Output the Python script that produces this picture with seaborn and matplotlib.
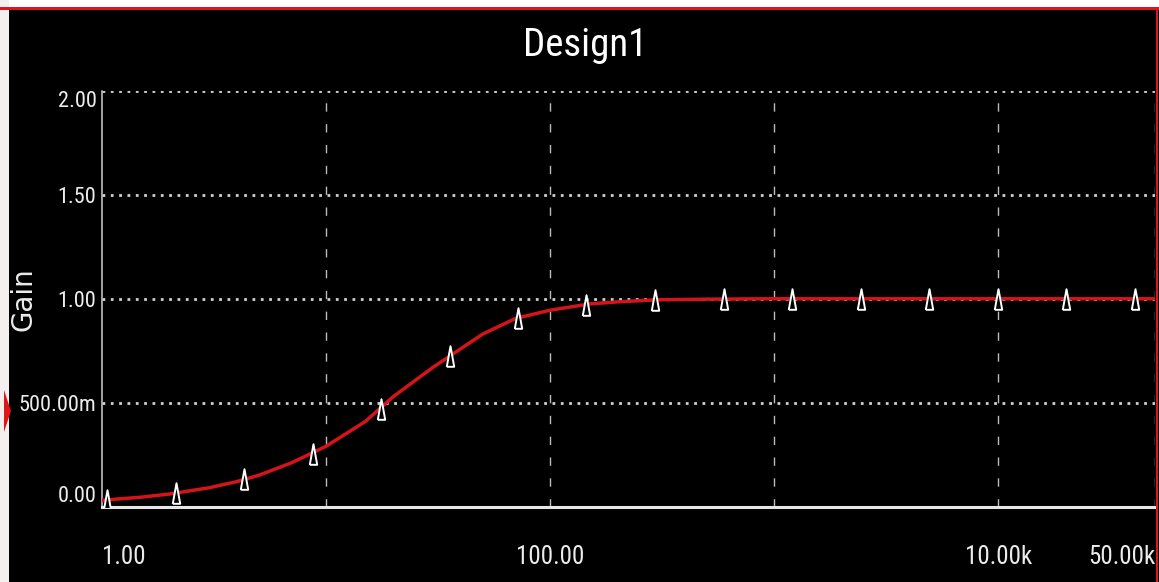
import matplotlib
matplotlib.use("Agg")
import matplotlib.pyplot as plt
import seaborn as sns
import pandas as pd
from matplotlib import font_manager
from matplotlib.patches import Rectangle, Polygon

# Frequency response of the filter (Hz -> gain)
freq = [1, 1.5, 2, 3, 4, 5, 7, 10, 15, 20, 30, 40, 50, 70, 100, 150, 200,
        300, 500, 1000, 10000, 50000]
gain = [0.03, 0.045, 0.06, 0.09, 0.12, 0.15, 0.21, 0.29, 0.41, 0.53, 0.67,
        0.76, 0.83, 0.905, 0.945, 0.975, 0.985, 0.995, 0.998, 1.0, 1.0, 1.0]

# Trace markers
marker_freq = [1.05, 2.13, 4.3, 8.7, 17.6, 35.6, 72, 145, 293, 594, 1200,
               2430, 4920, 9960, 20100, 40800]
marker_gain = [0.032, 0.064, 0.13, 0.255, 0.47, 0.725, 0.907, 0.972, 0.994,
               0.998, 1.0, 1.0, 1.0, 1.0, 1.0, 1.0]

x_ticks = [1, 10, 100, 1000, 10000, 50000]
x_tick_labels = ["1.00", "", "100.00", "", "10.00k", "50.00k"]
y_ticks = [0.0, 0.5, 1.0, 1.5, 2.0]
y_tick_labels = ["0.00", "500.00m", "1.00", "1.50", "2.00"]

title = "Design1"
y_label = "Gain"

sns.set_style("dark", {"axes.facecolor": "black", "figure.facecolor": "black"})
avail = {f.name for f in font_manager.fontManager.ttflist}
narrow = next((n for n in ["Liberation Sans Narrow", "DejaVu Sans Condensed",
                           "Roboto Condensed", "Liberation Sans"] if n in avail),
              "DejaVu Sans")
plt.rcParams["font.family"] = [narrow, "DejaVu Sans"]

W, H = 1159, 582
fig = plt.figure(figsize=(W / 100, H / 100), dpi=100, facecolor="black")
ax = fig.add_axes([102 / W, 1 - 506.5 / H, 1053 / W, 415.5 / H])
ax.set_facecolor("black")

curve = pd.DataFrame({"freq": freq, "gain": gain})
marks = pd.DataFrame({"freq": marker_freq, "gain": marker_gain})

sns.lineplot(data=curve, x="freq", y="gain", ax=ax, color="#d4141a",
             linewidth=2.5, zorder=3)
tri = [(-0.36, -1.0), (0.36, -1.0), (0.0, 1.0), (-0.36, -1.0)]
sns.scatterplot(data=marks, x="freq", y="gain", ax=ax, marker=tri, s=220,
                facecolor="black", edgecolor="white", linewidth=1.4, zorder=4)

ax.set_xscale("log")
ax.set_xlim(1, 50000)
ax.set_ylim(0, 2.0)

# Grid: dotted horizontal, dashed vertical
ax.set_xticks(x_ticks)
ax.set_xticklabels(x_tick_labels)
ax.minorticks_off()
ax.set_yticks(y_ticks)
ax.set_yticklabels(y_tick_labels)
for v in y_ticks[1:]:
    ax.axhline(v, color="#d0d0d0", linewidth=2.0, linestyle=(0, (1.0, 2.0)),
               zorder=1)
for v in x_ticks[1:]:
    ax.axvline(v, color="#bcbcbc", linewidth=1.0, linestyle=(0, (6, 9)),
               zorder=1)
ax.grid(False)

for s in ["top", "right"]:
    ax.spines[s].set_visible(False)
ax.spines["bottom"].set_color("#e6e6e6")
ax.spines["bottom"].set_linewidth(2.2)
ax.spines["left"].set_color("#cfcfcf")
ax.spines["left"].set_linewidth(1.1)

ax.tick_params(axis="both", length=0, colors="#ececec")
ax.tick_params(axis="x", pad=28, labelsize=18)
ax.tick_params(axis="y", pad=4, labelsize=16)

xl = ax.get_xticklabels()
xl[0].set_ha("left")
xl[-1].set_ha("right")
yl = ax.get_yticklabels()
yl[0].set_va("bottom")
yl[-1].set_va("top")

ax.set_xlabel("")
ax.set_ylabel(y_label, color="#ececec", fontsize=20, family="DejaVu Sans",
              va="center", ha="center")
ax.yaxis.set_label_coords(-0.075, 0.5)

fig.text(585 / W, 1 - 45 / H, title, ha="center", va="center", color="white",
         fontsize=28)

# Window frame
fig.patches.append(Rectangle((0, 1 - 7 / H), 1, 7 / H, transform=fig.transFigure,
                             facecolor="white", edgecolor="none", zorder=0))
fig.patches.append(Rectangle((0, 0), 9 / W, 1, transform=fig.transFigure,
                             facecolor="#f4f0f0", edgecolor="none", zorder=0))
fig.patches.append(Rectangle((0, 1 - 10 / H), 1, 3 / H, transform=fig.transFigure,
                             facecolor="#e0141a", edgecolor="none", zorder=1))
fig.patches.append(Rectangle((1 - 3 / W, 0), 2 / W, 1 - 7 / H,
                             transform=fig.transFigure, facecolor="#e0141a",
                             edgecolor="none", zorder=1))
fig.patches.append(Polygon([(4 / W, 1 - 390 / H), (11 / W, 1 - 411 / H),
                            (4 / W, 1 - 432 / H)], closed=True,
                           transform=fig.transFigure, facecolor="#e0141a",
                           edgecolor="none", zorder=2))

fig.savefig("out.png", dpi=100, facecolor="black")
